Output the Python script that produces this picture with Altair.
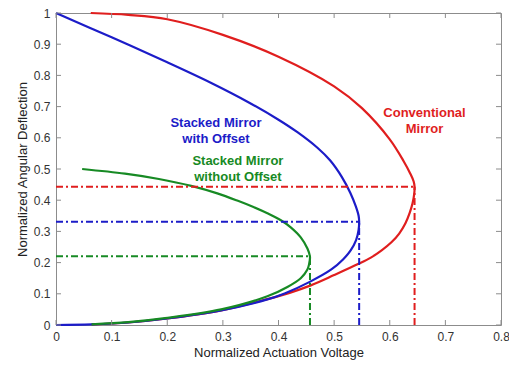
import altair as alt
import pandas as pd

# ---- data ----
conv_v = [0.0625, 0.130, 0.2, 0.3, 0.4, 0.5, 0.55, 0.6, 0.625, 0.637, 0.643,
          0.6446, 0.644, 0.641, 0.636, 0.628, 0.617, 0.603, 0.586, 0.566, 0.544, 0.50, 0.458, 0.42,
          0.380, 0.297, 0.196, 0.13, 0.064]
conv_t = [1.0, 0.994, 0.980, 0.930, 0.860, 0.765, 0.695, 0.595, 0.525, 0.485, 0.46,
          0.443, 0.42, 0.39, 0.36, 0.325, 0.293, 0.265, 0.24, 0.216, 0.196, 0.16, 0.127, 0.103,
          0.083, 0.047, 0.020, 0.008, 0.002]

off_v = [0.0, 0.1, 0.2, 0.28, 0.345, 0.40, 0.434, 0.470, 0.493, 0.514, 0.529, 0.539, 0.544, 0.545,
         0.544, 0.5395, 0.530, 0.516, 0.495, 0.457, 0.411, 0.380, 0.297, 0.196, 0.13, 0.064, 0.0]
off_t = [1.0, 0.922, 0.842, 0.775, 0.715, 0.658, 0.618, 0.568, 0.527, 0.474, 0.424, 0.38, 0.35, 0.331,
         0.305, 0.272, 0.24, 0.21, 0.178, 0.139, 0.101, 0.082, 0.047, 0.020, 0.008, 0.002, 0.0]

nooff_v = [0.047, 0.124, 0.185, 0.243, 0.290, 0.327, 0.355, 0.380, 0.405, 0.422, 0.440, 0.452, 0.4566,
           0.455, 0.452, 0.44, 0.416, 0.38, 0.297, 0.196, 0.13, 0.064]
nooff_t = [0.5, 0.485, 0.468, 0.446, 0.422, 0.398, 0.378, 0.358, 0.335, 0.313, 0.281, 0.245, 0.218,
           0.195, 0.178, 0.150, 0.122, 0.092, 0.05, 0.022, 0.009, 0.002]

series = ["Conventional Mirror", "Stacked Mirror with Offset", "Stacked Mirror without Offset"]
colors = ["#e01e1e", "#1c1cc8", "#178a24"]
peak_v = [0.6446, 0.545, 0.4566]
peak_t = [0.443, 0.331, 0.22]

label_lines = [["Conventional", "Mirror"], ["Stacked Mirror", "with Offset"],
               ["Stacked Mirror", "without Offset"]]
label_v = [0.6625, 0.2875, 0.327]
label_t = [0.678, 0.646, 0.525]

x_ticks = [0, 0.1, 0.2, 0.3, 0.4, 0.5, 0.6, 0.7, 0.8]
y_ticks = [0, 0.1, 0.2, 0.3, 0.4, 0.5, 0.6, 0.7, 0.8, 0.9, 1.0]

# ---- tables ----
rows = []
for s, vs, ts in zip(series, [conv_v, off_v, nooff_v], [conv_t, off_t, nooff_t]):
    for i, (v, t) in enumerate(zip(vs, ts)):
        rows.append({"series": s, "idx": i, "v": v, "t": t})
curves = pd.DataFrame(rows)

guide_rows = []
for s, pv, pt in zip(series, peak_v, peak_t):
    guide_rows.append({"series": s, "v": 0.0, "v2": pv, "t": pt, "t2": pt})
    guide_rows.append({"series": s, "v": pv, "v2": pv, "t": 0.0, "t2": pt})
guides = pd.DataFrame(guide_rows)

labels = pd.DataFrame({"series": series, "v": label_v, "t": label_t,
                       "text": label_lines})

xs = alt.Scale(domain=[0, 0.8], nice=False, zero=False)
ys = alt.Scale(domain=[0, 1], nice=False, zero=False)
cscale = alt.Scale(domain=series, range=colors)

W, H = 445, 312

xaxis = alt.Axis(values=x_ticks, format=".1~f", title="Normalized Actuation Voltage",
                 labelPadding=6, titlePadding=4, labelOverlap=False, labelFlush=False)
yaxis = alt.Axis(values=y_ticks, format=".1~f", title="Normalized Angular Deflection",
                 labelPadding=6, titlePadding=4, labelOverlap=False, labelFlush=False)

X = alt.X("v:Q", scale=xs, axis=xaxis)
Y = alt.Y("t:Q", scale=ys, axis=yaxis)

lines = alt.Chart(curves).mark_line(strokeWidth=2.2, interpolate="catmull-rom").encode(
    x=X, y=Y,
    color=alt.Color("series:N", scale=cscale, legend=None),
    order="idx:Q",
)

dash = alt.Chart(guides).mark_rule(strokeWidth=2, strokeDash=[7, 3, 2, 3]).encode(
    x=X, x2="v2", y=Y, y2="t2",
    color=alt.Color("series:N", scale=cscale, legend=None),
)

text = alt.Chart(labels).mark_text(font="Liberation Sans", fontWeight="bold", fontSize=13,
                                    lineHeight=16, align="center", baseline="middle").encode(
    x=X, y=Y, text="text",
    color=alt.Color("series:N", scale=cscale, legend=None),
)

xt = pd.DataFrame({"v": x_ticks})
yt = pd.DataFrame({"t": y_ticks})
tick_col = "#8c8c8c"
tb = alt.Chart(xt).mark_rule(color=tick_col, strokeWidth=1).encode(
    x=X, y=alt.value(H), y2=alt.value(H - 5))
tt = alt.Chart(xt).mark_rule(color=tick_col, strokeWidth=1).encode(
    x=X, y=alt.value(0), y2=alt.value(5))
tl = alt.Chart(yt).mark_rule(color=tick_col, strokeWidth=1).encode(
    y=Y, x=alt.value(0), x2=alt.value(5))
tr = alt.Chart(yt).mark_rule(color=tick_col, strokeWidth=1).encode(
    y=Y, x=alt.value(W), x2=alt.value(W - 5))

chart = alt.layer(lines, dash, text, tb, tt, tl, tr).properties(
    width=W, height=H,
    autosize=alt.AutoSizeParams(type="none"),
    padding={"left": 48, "top": 5, "right": 8, "bottom": 36},
).configure_view(
    stroke="#8c8c8c", strokeWidth=1
).configure_axis(
    grid=False, domain=False, ticks=False, labelOverlap=False,
    labelFont="Liberation Sans", labelFontSize=12, labelColor="#333333",
    titleFont="Liberation Sans", titleFontSize=13, titleFontWeight="normal",
    titleColor="#222222",
)

chart.save("out.html", embed_options={"renderer": "svg", "actions": False})
